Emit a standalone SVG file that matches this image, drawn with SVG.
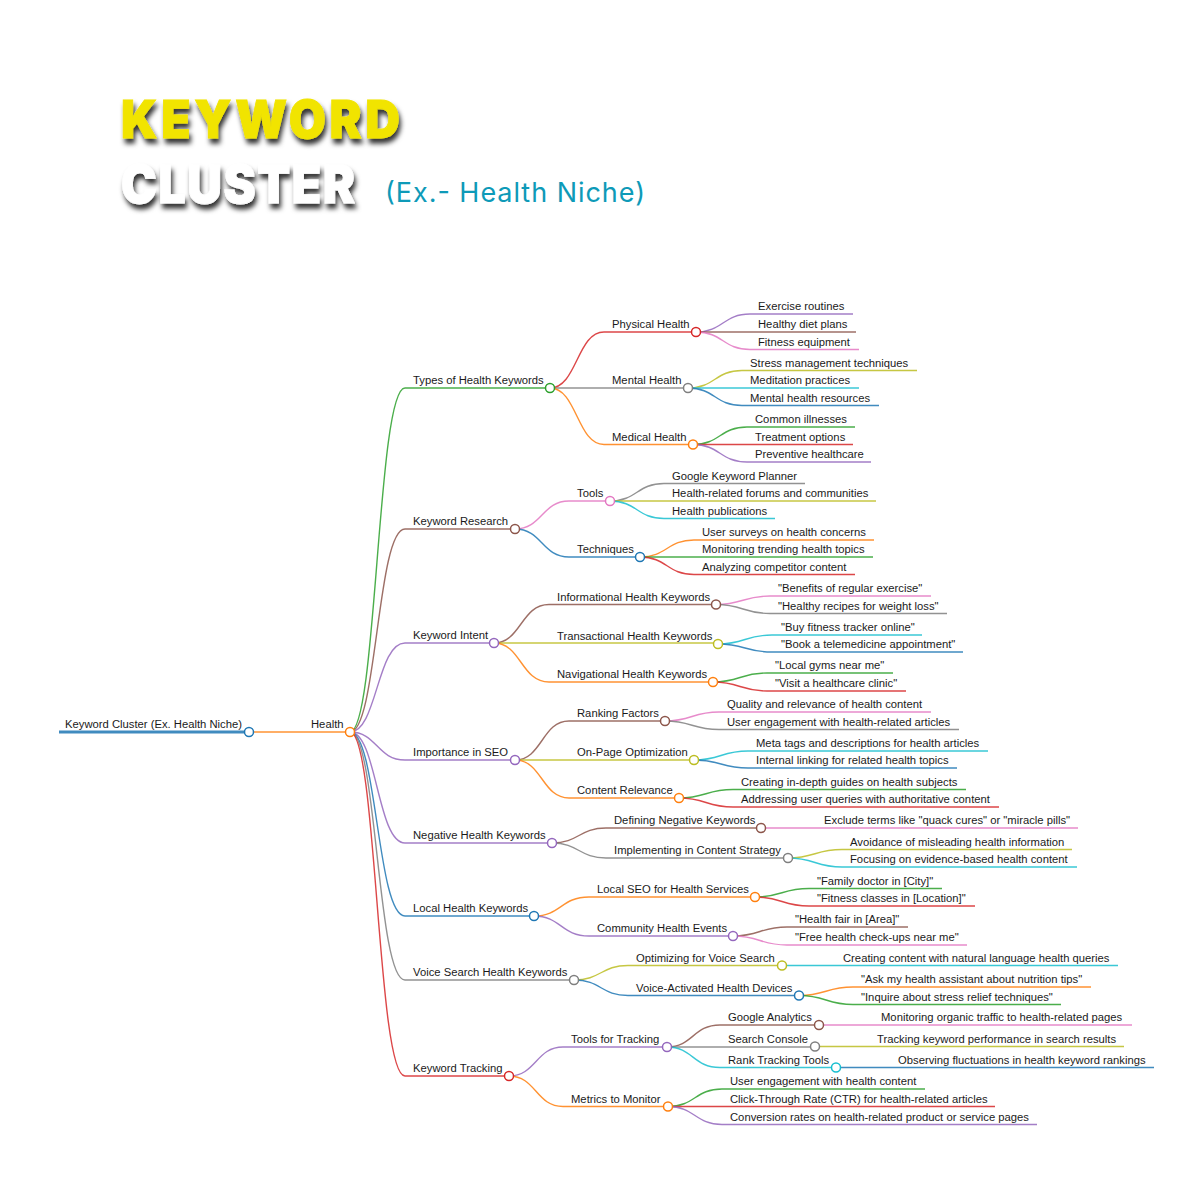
<svg xmlns="http://www.w3.org/2000/svg" width="1200" height="1200" viewBox="0 0 1200 1200">
<style>
text{font-family:"Liberation Sans",Arial,sans-serif;font-size:11.25px;fill:#1a1a1a}
.title{font-family:"Inter","Liberation Sans",sans-serif;font-size:48px;font-weight:900}
.sub{font-family:"Inter","Open Sans",sans-serif;font-size:27px;font-weight:400;fill:#0e9ab8}
path{fill:none;stroke-width:1.4;stroke-opacity:.85}
circle{fill:#fff;stroke-width:1.5}
.bl{stroke:#1f77b4}.or{stroke:#ff7f0e}.gr{stroke:#2ca02c}.re{stroke:#d62728}.pu{stroke:#9467bd}.br{stroke:#8c564b}.pk{stroke:#e377c2}.ga{stroke:#7f7f7f}.ol{stroke:#bcbd22}.cy{stroke:#17becf}
</style>
<defs><filter id="sh" x="-10%" y="-30%" width="120%" height="170%"><feDropShadow dx="2" dy="5" stdDeviation="2.6" flood-color="#000" flood-opacity="0.8"/></filter></defs>
<rect width="1200" height="1200" fill="#fff"/>
<g id="title">
<g filter="url(#sh)"><text class="title" transform="translate(121,138) scale(1,1.08)" textLength="279" style="fill:#f1e400;stroke:#f1e400;stroke-width:.8">KEYWORD</text></g>
<g filter="url(#sh)"><text class="title" transform="translate(121,203) scale(1,1.08)" textLength="234" style="fill:#fff;stroke:#fff;stroke-width:.8">CLUSTER</text></g>
<text class="sub" x="385" y="202" textLength="260">(Ex.- Health Niche)</text>
</g>
<g id="connectors">
<path class="bl" style="stroke-width:3" d="M59 732H249"/>
<path class="or" d="M249 732H350"/>
<path class="gr" d="M350 732C377 732 377 388 405 388H550"/>
<path class="br" d="M350 732C377 732 377 529 405 529H515"/>
<path class="pu" d="M350 732C377 732 377 643 405 643H494"/>
<path class="pu" d="M350 732C377 732 377 760 405 760H515"/>
<path class="pu" d="M350 732C377 732 377 843 405 843H552"/>
<path class="bl" d="M350 732C377 732 377 916 405 916H534"/>
<path class="ga" d="M350 732C377 732 377 980 405 980H574"/>
<path class="re" d="M350 732C377 732 377 1076 405 1076H509"/>
<path class="re" d="M550 388C577 388 577 332 604 332H696"/>
<path class="ga" d="M550 388H688"/>
<path class="or" d="M550 388C577 388 577 444.500 604 444.500H693"/>
<path class="pu" d="M696 332C723 332 723 314 750 314H853"/>
<path class="br" d="M696 332H856"/>
<path class="pk" d="M696 332C723 332 723 349.500 750 349.500H859"/>
<path class="ol" d="M688 388C715 388 715 370.500 742 370.500H917"/>
<path class="cy" d="M688 388H859"/>
<path class="bl" d="M688 388C715 388 715 405.500 742 405.500H879"/>
<path class="gr" d="M693 444.500C720 444.500 720 427 747 427H855"/>
<path class="re" d="M693 444.500H853"/>
<path class="pu" d="M693 444.500C720 444.500 720 462 747 462H871"/>
<path class="pk" d="M515 529C542 529 542 501 569 501H610"/>
<path class="bl" d="M515 529C542 529 542 557 569 557H640"/>
<path class="ga" d="M610 501C637 501 637 483.500 664 483.500H805"/>
<path class="ol" d="M610 501H876"/>
<path class="cy" d="M610 501C637 501 637 518.500 664 518.500H775"/>
<path class="or" d="M640 557C667 557 667 540 694 540H874"/>
<path class="gr" d="M640 557H873"/>
<path class="re" d="M640 557C667 557 667 574.500 694 574.500H855"/>
<path class="br" d="M494 643C521 643 521 604.500 549 604.500H716"/>
<path class="ol" d="M494 643H718"/>
<path class="or" d="M494 643C521 643 521 682 549 682H713"/>
<path class="pk" d="M716 604.500C743 604.500 743 596 770 596H931"/>
<path class="ga" d="M716 604.500C743 604.500 743 613.500 770 613.500H947"/>
<path class="cy" d="M718 644C745 644 745 635 772 635H922"/>
<path class="bl" d="M718 644C745 644 745 652 772 652H963"/>
<path class="gr" d="M713 682C740 682 740 673 767 673H893"/>
<path class="re" d="M713 682C740 682 740 691 767 691H906"/>
<path class="br" d="M515 760C542 760 542 721 569 721H665"/>
<path class="ol" d="M515 760H694"/>
<path class="or" d="M515 760C542 760 542 798 569 798H679"/>
<path class="pk" d="M665 721C692 721 692 712 719 712H931"/>
<path class="ga" d="M665 721C692 721 692 729.500 719 729.500H959"/>
<path class="cy" d="M694 760C721 760 721 751 748 751H988"/>
<path class="bl" d="M694 760C721 760 721 768 748 768H957"/>
<path class="gr" d="M679 798C706 798 706 789.500 733 789.500H966"/>
<path class="re" d="M679 798C706 798 706 807 733 807H999"/>
<path class="br" d="M552 843C579 843 579 828 606 828H761"/>
<path class="ga" d="M552 843C579 843 579 858 606 858H788"/>
<path class="pk" d="M761 828H1078"/>
<path class="ol" d="M788 858C815 858 815 849.500 842 849.500H1072"/>
<path class="cy" d="M788 858C815 858 815 867 842 867H1077"/>
<path class="or" d="M534 916C561 916 561 897 589 897H755"/>
<path class="pu" d="M534 916C561 916 561 936 589 936H733"/>
<path class="gr" d="M755 897C782 897 782 888.500 809 888.500H942"/>
<path class="re" d="M755 897C782 897 782 906 809 906H975"/>
<path class="br" d="M733 936C760 936 760 927 787 927H908"/>
<path class="pk" d="M733 936C760 936 760 945 787 945H967"/>
<path class="ol" d="M574 980C601 980 601 965.500 628 965.500H782"/>
<path class="bl" d="M574 980C601 980 601 995.500 628 995.500H799"/>
<path class="cy" d="M782 965.500H1118"/>
<path class="or" d="M799 995.500C826 995.500 826 987 853 987H1091"/>
<path class="gr" d="M799 995.500C826 995.500 826 1004.500 853 1004.500H1061"/>
<path class="pu" d="M509 1076C536 1076 536 1047 563 1047H667"/>
<path class="or" d="M509 1076C536 1076 536 1106.500 563 1106.500H668"/>
<path class="br" d="M667 1047C693 1047 693 1025 720 1025H819"/>
<path class="ga" d="M667 1047H815"/>
<path class="cy" d="M667 1047C693 1047 693 1067.500 720 1067.500H836"/>
<path class="pk" d="M819 1025H1132"/>
<path class="ol" d="M815 1046.500H1124"/>
<path class="bl" d="M836 1067.500H1154"/>
<path class="gr" d="M668 1106.500C695 1106.500 695 1089 722 1089H925"/>
<path class="re" d="M668 1106.500H995"/>
<path class="pu" d="M668 1106.500C695 1106.500 695 1124.500 722 1124.500H1037"/>
</g>
<g id="nodes" transform="translate(0,-0.3)">
<g id="n-root"><text x="65" y="728.500">Keyword Cluster (Ex. Health Niche)</text><circle class="bl" cx="249" cy="732.300" r="4.500"/></g>
<g id="n-health"><text x="311" y="728.500">Health</text><circle class="or" cx="350" cy="732.300" r="4.500"/></g>
<g id="n-types"><text x="413" y="384.500">Types of Health Keywords</text><circle class="gr" cx="550" cy="388.300" r="4.500"/></g>
<g id="n-research"><text x="413" y="525.500">Keyword Research</text><circle class="br" cx="515" cy="529.300" r="4.500"/></g>
<g id="n-intent"><text x="413" y="639.500">Keyword Intent</text><circle class="pu" cx="494" cy="643.300" r="4.500"/></g>
<g id="n-seo"><text x="413" y="756.500">Importance in SEO</text><circle class="pu" cx="515" cy="760.300" r="4.500"/></g>
<g id="n-negative"><text x="413" y="839.500">Negative Health Keywords</text><circle class="pu" cx="552" cy="843.300" r="4.500"/></g>
<g id="n-local"><text x="413" y="912.500">Local Health Keywords</text><circle class="bl" cx="534" cy="916.300" r="4.500"/></g>
<g id="n-voice"><text x="413" y="976.500">Voice Search Health Keywords</text><circle class="ga" cx="574" cy="980.300" r="4.500"/></g>
<g id="n-tracking"><text x="413" y="1072.500">Keyword Tracking</text><circle class="re" cx="509" cy="1076.300" r="4.500"/></g>
<g id="n-physical"><text x="612" y="328.500">Physical Health</text><circle class="re" cx="696" cy="332.300" r="4.500"/></g>
<g id="n-mental"><text x="612" y="384.500">Mental Health</text><circle class="ga" cx="688" cy="388.300" r="4.500"/></g>
<g id="n-medical"><text x="612" y="441">Medical Health</text><circle class="or" cx="693" cy="444.800" r="4.500"/></g>
<g id="n-l1"><text x="758" y="310.500">Exercise routines</text></g>
<g id="n-l2"><text x="758" y="328.500">Healthy diet plans</text></g>
<g id="n-l3"><text x="758" y="346">Fitness equipment</text></g>
<g id="n-l4"><text x="750" y="367">Stress management techniques</text></g>
<g id="n-l5"><text x="750" y="384.500">Meditation practices</text></g>
<g id="n-l6"><text x="750" y="402">Mental health resources</text></g>
<g id="n-l7"><text x="755" y="423.500">Common illnesses</text></g>
<g id="n-l8"><text x="755" y="441">Treatment options</text></g>
<g id="n-l9"><text x="755" y="458.500">Preventive healthcare</text></g>
<g id="n-tools"><text x="577" y="497.500">Tools</text><circle class="pk" cx="610" cy="501.300" r="4.500"/></g>
<g id="n-techniques"><text x="577" y="553.500">Techniques</text><circle class="bl" cx="640" cy="557.300" r="4.500"/></g>
<g id="n-l10"><text x="672" y="480">Google Keyword Planner</text></g>
<g id="n-l11"><text x="672" y="497.500">Health-related forums and communities</text></g>
<g id="n-l12"><text x="672" y="515">Health publications</text></g>
<g id="n-l13"><text x="702" y="536.500">User surveys on health concerns</text></g>
<g id="n-l14"><text x="702" y="553.500">Monitoring trending health topics</text></g>
<g id="n-l15"><text x="702" y="571">Analyzing competitor content</text></g>
<g id="n-info"><text x="557" y="601">Informational Health Keywords</text><circle class="br" cx="716" cy="604.800" r="4.500"/></g>
<g id="n-trans"><text x="557" y="640">Transactional Health Keywords</text><circle class="ol" cx="718" cy="644.300" r="4.500"/></g>
<g id="n-nav"><text x="557" y="678.500">Navigational Health Keywords</text><circle class="or" cx="713" cy="682.300" r="4.500"/></g>
<g id="n-l16"><text x="778" y="592.500">"Benefits of regular exercise"</text></g>
<g id="n-l17"><text x="778" y="610">"Healthy recipes for weight loss"</text></g>
<g id="n-l18"><text x="781" y="631.500">"Buy fitness tracker online"</text></g>
<g id="n-l19"><text x="781" y="648.500">"Book a telemedicine appointment"</text></g>
<g id="n-l20"><text x="775" y="669.500">"Local gyms near me"</text></g>
<g id="n-l21"><text x="775" y="687.500">"Visit a healthcare clinic"</text></g>
<g id="n-ranking"><text x="577" y="717.500">Ranking Factors</text><circle class="br" cx="665" cy="721.300" r="4.500"/></g>
<g id="n-onpage"><text x="577" y="756.500">On-Page Optimization</text><circle class="ol" cx="694" cy="760.300" r="4.500"/></g>
<g id="n-relevance"><text x="577" y="794.500">Content Relevance</text><circle class="or" cx="679" cy="798.300" r="4.500"/></g>
<g id="n-l22"><text x="727" y="708.500">Quality and relevance of health content</text></g>
<g id="n-l23"><text x="727" y="726">User engagement with health-related articles</text></g>
<g id="n-l24"><text x="756" y="747.500">Meta tags and descriptions for health articles</text></g>
<g id="n-l25"><text x="756" y="764.500">Internal linking for related health topics</text></g>
<g id="n-l26"><text x="741" y="786">Creating in-depth guides on health subjects</text></g>
<g id="n-l27"><text x="741" y="803.500">Addressing user queries with authoritative content</text></g>
<g id="n-defining"><text x="614" y="824.500">Defining Negative Keywords</text><circle class="br" cx="761" cy="828.300" r="4.500"/></g>
<g id="n-implementing"><text x="614" y="854.500">Implementing in Content Strategy</text><circle class="ga" cx="788" cy="858.300" r="4.500"/></g>
<g id="n-l28"><text x="824" y="824.500">Exclude terms like "quack cures" or "miracle pills"</text></g>
<g id="n-l29"><text x="850" y="846">Avoidance of misleading health information</text></g>
<g id="n-l30"><text x="850" y="863.500">Focusing on evidence-based health content</text></g>
<g id="n-localseo"><text x="597" y="893.500">Local SEO for Health Services</text><circle class="or" cx="755" cy="897.300" r="4.500"/></g>
<g id="n-community"><text x="597" y="932.500">Community Health Events</text><circle class="pu" cx="733" cy="936.300" r="4.500"/></g>
<g id="n-l31"><text x="817" y="885">"Family doctor in [City]"</text></g>
<g id="n-l32"><text x="817" y="902.500">"Fitness classes in [Location]"</text></g>
<g id="n-l33"><text x="795" y="923.500">"Health fair in [Area]"</text></g>
<g id="n-l34"><text x="795" y="941.500">"Free health check-ups near me"</text></g>
<g id="n-optimizing"><text x="636" y="962">Optimizing for Voice Search</text><circle class="ol" cx="782" cy="965.800" r="4.500"/></g>
<g id="n-devices"><text x="636" y="992">Voice-Activated Health Devices</text><circle class="bl" cx="799" cy="995.800" r="4.500"/></g>
<g id="n-l35"><text x="843" y="962">Creating content with natural language health queries</text></g>
<g id="n-l36"><text x="861" y="983.500">"Ask my health assistant about nutrition tips"</text></g>
<g id="n-l37"><text x="861" y="1001">"Inquire about stress relief techniques"</text></g>
<g id="n-toolstrack"><text x="571" y="1043.500">Tools for Tracking</text><circle class="pu" cx="667" cy="1047.300" r="4.500"/></g>
<g id="n-metrics"><text x="571" y="1103">Metrics to Monitor</text><circle class="or" cx="668" cy="1106.800" r="4.500"/></g>
<g id="n-analytics"><text x="728" y="1021.500">Google Analytics</text><circle class="br" cx="819" cy="1025.300" r="4.500"/></g>
<g id="n-console"><text x="728" y="1043">Search Console</text><circle class="ga" cx="815" cy="1046.800" r="4.500"/></g>
<g id="n-rank"><text x="728" y="1064">Rank Tracking Tools</text><circle class="cy" cx="836" cy="1067.800" r="4.500"/></g>
<g id="n-l38"><text x="881" y="1021.500">Monitoring organic traffic to health-related pages</text></g>
<g id="n-l39"><text x="877" y="1043">Tracking keyword performance in search results</text></g>
<g id="n-l40"><text x="898" y="1064">Observing fluctuations in health keyword rankings</text></g>
<g id="n-l41"><text x="730" y="1085.500">User engagement with health content</text></g>
<g id="n-l42"><text x="730" y="1103">Click-Through Rate (CTR) for health-related articles</text></g>
<g id="n-l43"><text x="730" y="1121">Conversion rates on health-related product or service pages</text></g>
</g>
</svg>
